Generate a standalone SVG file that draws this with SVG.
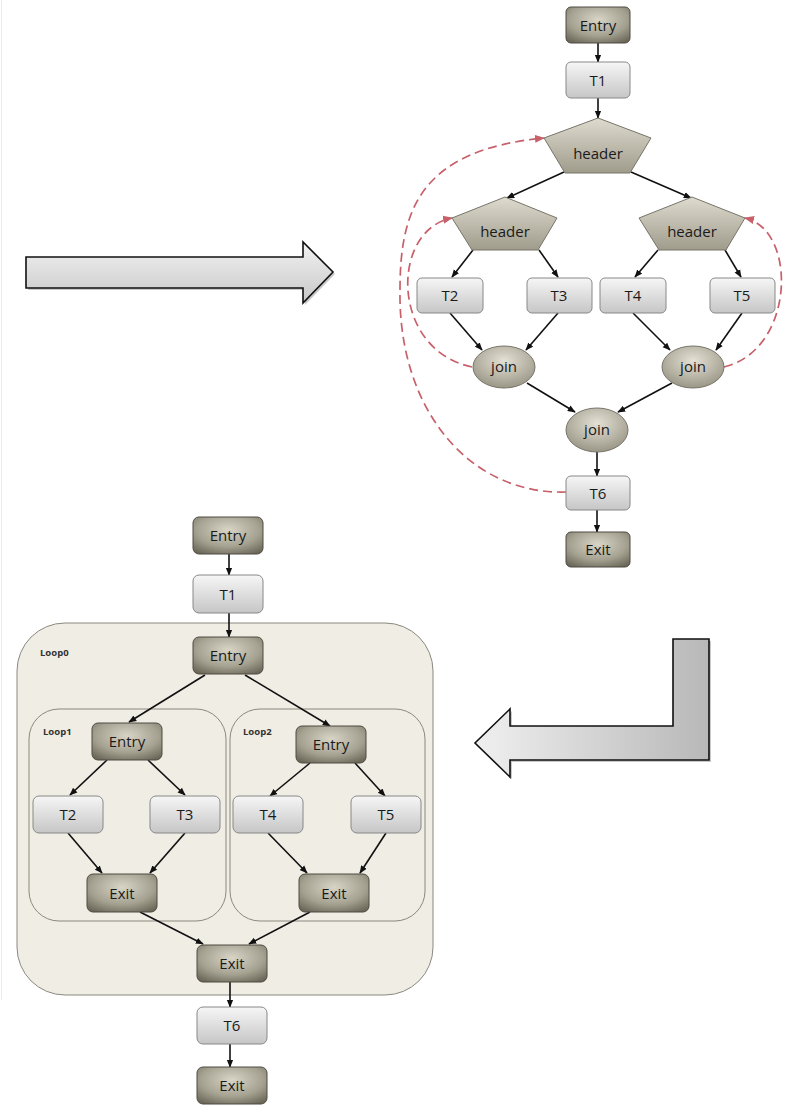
<svg xmlns="http://www.w3.org/2000/svg" width="787" height="1111" viewBox="0 0 787 1111">
<defs>
<radialGradient id="gDark" cx="50%" cy="35%" r="75%">
<stop offset="0" stop-color="#d8d5c7"/>
<stop offset="0.6" stop-color="#a5a191"/>
<stop offset="1" stop-color="#6a6657"/>
</radialGradient>
<linearGradient id="gLight" x1="0" y1="0" x2="0" y2="1">
<stop offset="0" stop-color="#f6f6f6"/>
<stop offset="1" stop-color="#c6c6c6"/>
</linearGradient>
<linearGradient id="gPent" x1="0" y1="0" x2="0" y2="1">
<stop offset="0" stop-color="#dedbcf"/>
<stop offset="1" stop-color="#a09c8c"/>
</linearGradient>
<radialGradient id="gJoin" cx="50%" cy="35%" r="70%">
<stop offset="0" stop-color="#e4e1d5"/>
<stop offset="1" stop-color="#959181"/>
</radialGradient>
<linearGradient id="gArrowH" x1="0" y1="0" x2="0" y2="1">
<stop offset="0" stop-color="#f2f2f2"/>
<stop offset="1" stop-color="#c8c8c8"/>
</linearGradient>
<linearGradient id="gArrowL" x1="0" y1="0" x2="1" y2="0">
<stop offset="0" stop-color="#f0f0f0"/>
<stop offset="1" stop-color="#b8b8b8"/>
</linearGradient>
<marker id="ah" viewBox="0 0 10 10" refX="9" refY="5" markerWidth="8" markerHeight="8" orient="auto" markerUnits="userSpaceOnUse">
<path d="M0,1 L10,5 L0,9 z" fill="#111"/>
</marker>
<marker id="ahr" viewBox="0 0 10 10" refX="9" refY="5" markerWidth="10" markerHeight="10" orient="auto" markerUnits="userSpaceOnUse">
<path d="M0,1 L10,5 L0,9 z" fill="#c8606a"/>
</marker>
</defs>
<style>
.dark{fill:url(#gDark);stroke:#4e4b43;stroke-width:1}
.light{fill:url(#gLight);stroke:#888;stroke-width:1}
.pent{fill:url(#gPent);stroke:#77746a;stroke-width:1}
.join{fill:url(#gJoin);stroke:#77746a;stroke-width:1}
.t{font-family:"Open Sans","Noto Sans",sans-serif;font-size:15px;fill:#1a1a1a;text-anchor:middle;dominant-baseline:central}
.lbl{font-family:"Open Sans","Noto Sans",sans-serif;font-size:9.5px;font-weight:bold;fill:#333}
.e{stroke:#111;stroke-width:1.6;fill:none;marker-end:url(#ah)}
.d{stroke:#c8606a;stroke-width:1.7;fill:none;stroke-dasharray:9,5}
.loop{fill:#efede4;stroke:#8a887f;stroke-width:1}
.blk{stroke:#111;stroke-width:1.6}
</style>
<rect width="787" height="1111" fill="#fff"/>
<line x1="1.5" y1="0" x2="1.5" y2="1000" stroke="#ececec" stroke-width="1"/>

<!-- block arrows -->
<g id="arrowRight">
<path d="M28,259 H305 V244 L335,274 L305,305 V290 H28 z" fill="#888" opacity="0.45"/>
<path d="M26,257 H303 V242 L333,272 L303,303 V288 H26 z" fill="url(#gArrowH)" class="blk"/>
</g>
<g id="arrowL">
<path d="M711,641 V762 H512 V779 L477,745 L512,711 V728 H675 V641 z" fill="#888" opacity="0.45"/>
<path d="M709,639 V760 H510 V777 L475,743 L510,709 V726 H673 V639 z" fill="url(#gArrowL)" class="blk"/>
</g>

<!-- top graph -->
<g id="connectors-top">
<line class="e" x1="598" y1="43" x2="598" y2="62"/>
<line class="e" x1="598" y1="98" x2="598" y2="118"/>
<line class="e" x1="564" y1="172" x2="507" y2="198"/>
<line class="e" x1="631" y1="172" x2="691" y2="198"/>
<line class="e" x1="473" y1="250" x2="452" y2="277"/>
<line class="e" x1="539" y1="250" x2="558" y2="277"/>
<line class="e" x1="658" y1="250" x2="635" y2="277"/>
<line class="e" x1="725" y1="250" x2="741" y2="277"/>
<line class="e" x1="450" y1="313" x2="482" y2="350"/>
<line class="e" x1="558" y1="313" x2="526" y2="350"/>
<line class="e" x1="633" y1="313" x2="670" y2="350"/>
<line class="e" x1="742" y1="313" x2="716" y2="350"/>
<line class="e" x1="527" y1="383" x2="575" y2="412"/>
<line class="e" x1="672" y1="383" x2="618" y2="412"/>
<line class="e" x1="597" y1="452" x2="597" y2="476"/>
<line class="e" x1="597" y1="510" x2="597" y2="532"/>
<path class="d" marker-end="url(#ahr)" d="M472,367 C390,350 390,230 452,218"/>
<path class="d" marker-end="url(#ahr)" d="M724,367 C795,350 798,230 745,218"/>
<path class="d" marker-end="url(#ahr)" d="M566,492 C470,495 398,410 400,290 C400,210 420,150 544,138"/>
</g>
<g id="t-entry"><rect class="dark" x="566" y="7" width="64" height="36" rx="5"/><text class="t" x="598" y="25">Entry</text></g>
<g id="t-t1"><rect class="light" x="566" y="62" width="64" height="36" rx="5"/><text class="t" x="598" y="80">T1</text></g>
<g id="t-header0"><polygon class="pent" points="598,118 651,138 630,173 565,173 544,138"/><text class="t" x="598" y="153">header</text></g>
<g id="t-header1"><polygon class="pent" points="505,197 557,218 538,250 472,250 452,218"/><text class="t" x="505" y="231">header</text></g>
<g id="t-header2"><polygon class="pent" points="692,197 745,218 726,250 659,250 639,218"/><text class="t" x="692" y="231">header</text></g>
<g id="t-t2"><rect class="light" x="417" y="278" width="66" height="35" rx="5"/><text class="t" x="450" y="295">T2</text></g>
<g id="t-t3"><rect class="light" x="527" y="278" width="65" height="35" rx="5"/><text class="t" x="559" y="295">T3</text></g>
<g id="t-t4"><rect class="light" x="600" y="278" width="66" height="35" rx="5"/><text class="t" x="633" y="295">T4</text></g>
<g id="t-t5"><rect class="light" x="710" y="278" width="65" height="35" rx="5"/><text class="t" x="742" y="295">T5</text></g>
<g id="t-join1"><ellipse class="join" cx="504" cy="367" rx="31" ry="21"/><text class="t" x="504" y="366">join</text></g>
<g id="t-join2"><ellipse class="join" cx="693" cy="367" rx="31" ry="21"/><text class="t" x="693" y="366">join</text></g>
<g id="t-join0"><ellipse class="join" cx="597" cy="430" rx="31" ry="22"/><text class="t" x="597" y="429">join</text></g>
<g id="t-t6"><rect class="light" x="566" y="476" width="64" height="34" rx="5"/><text class="t" x="598" y="493">T6</text></g>
<g id="t-exit"><rect class="dark" x="566" y="532" width="64" height="35" rx="5"/><text class="t" x="598" y="549">Exit</text></g>

<!-- bottom graph -->
<g id="loop0"><rect class="loop" x="17" y="623" width="416" height="372" rx="48"/><text class="lbl" x="40" y="656">Loop0</text></g>
<g id="loop1"><rect class="loop" x="29" y="709" width="197" height="212" rx="30"/><text class="lbl" x="43" y="735">Loop1</text></g>
<g id="loop2"><rect class="loop" x="230" y="709" width="195" height="212" rx="30"/><text class="lbl" x="243" y="735">Loop2</text></g>
<g id="connectors-bottom">
<line class="e" x1="229" y1="554" x2="229" y2="575"/>
<line class="e" x1="229" y1="613" x2="229" y2="637"/>
<line class="e" x1="205" y1="675" x2="129" y2="722"/>
<line class="e" x1="245" y1="675" x2="330" y2="726"/>
<line class="e" x1="107" y1="760" x2="70" y2="795"/>
<line class="e" x1="148" y1="760" x2="185" y2="795"/>
<line class="e" x1="310" y1="763" x2="270" y2="796"/>
<line class="e" x1="355" y1="763" x2="385" y2="796"/>
<line class="e" x1="68" y1="833" x2="102" y2="873"/>
<line class="e" x1="185" y1="833" x2="150" y2="873"/>
<line class="e" x1="268" y1="833" x2="307" y2="873"/>
<line class="e" x1="386" y1="833" x2="360" y2="873"/>
<line class="e" x1="140" y1="912" x2="203" y2="944"/>
<line class="e" x1="310" y1="912" x2="249" y2="944"/>
<line class="e" x1="230" y1="982" x2="230" y2="1007"/>
<line class="e" x1="230" y1="1044" x2="230" y2="1067"/>
</g>
<g id="b-entry"><rect class="dark" x="193" y="517" width="70" height="37" rx="6"/><text class="t" x="228" y="535">Entry</text></g>
<g id="b-t1"><rect class="light" x="193" y="575" width="70" height="38" rx="6"/><text class="t" x="228" y="594">T1</text></g>
<g id="b-entry0"><rect class="dark" x="193" y="637" width="70" height="37" rx="6"/><text class="t" x="228" y="655">Entry</text></g>
<g id="b-entry1"><rect class="dark" x="92" y="723" width="70" height="37" rx="6"/><text class="t" x="127" y="741">Entry</text></g>
<g id="b-entry2"><rect class="dark" x="296" y="726" width="70" height="37" rx="6"/><text class="t" x="331" y="744">Entry</text></g>
<g id="b-t2"><rect class="light" x="33" y="796" width="70" height="37" rx="6"/><text class="t" x="68" y="814">T2</text></g>
<g id="b-t3"><rect class="light" x="150" y="796" width="70" height="37" rx="6"/><text class="t" x="185" y="814">T3</text></g>
<g id="b-t4"><rect class="light" x="233" y="796" width="70" height="37" rx="6"/><text class="t" x="268" y="814">T4</text></g>
<g id="b-t5"><rect class="light" x="351" y="796" width="70" height="37" rx="6"/><text class="t" x="386" y="814">T5</text></g>
<g id="b-exit1"><rect class="dark" x="87" y="874" width="70" height="38" rx="6"/><text class="t" x="122" y="893">Exit</text></g>
<g id="b-exit2"><rect class="dark" x="299" y="874" width="70" height="38" rx="6"/><text class="t" x="334" y="893">Exit</text></g>
<g id="b-exit0"><rect class="dark" x="197" y="945" width="70" height="37" rx="6"/><text class="t" x="232" y="963">Exit</text></g>
<g id="b-t6"><rect class="light" x="197" y="1007" width="70" height="37" rx="6"/><text class="t" x="232" y="1025">T6</text></g>
<g id="b-exit"><rect class="dark" x="197" y="1067" width="70" height="37" rx="6"/><text class="t" x="232" y="1085">Exit</text></g>
</svg>
